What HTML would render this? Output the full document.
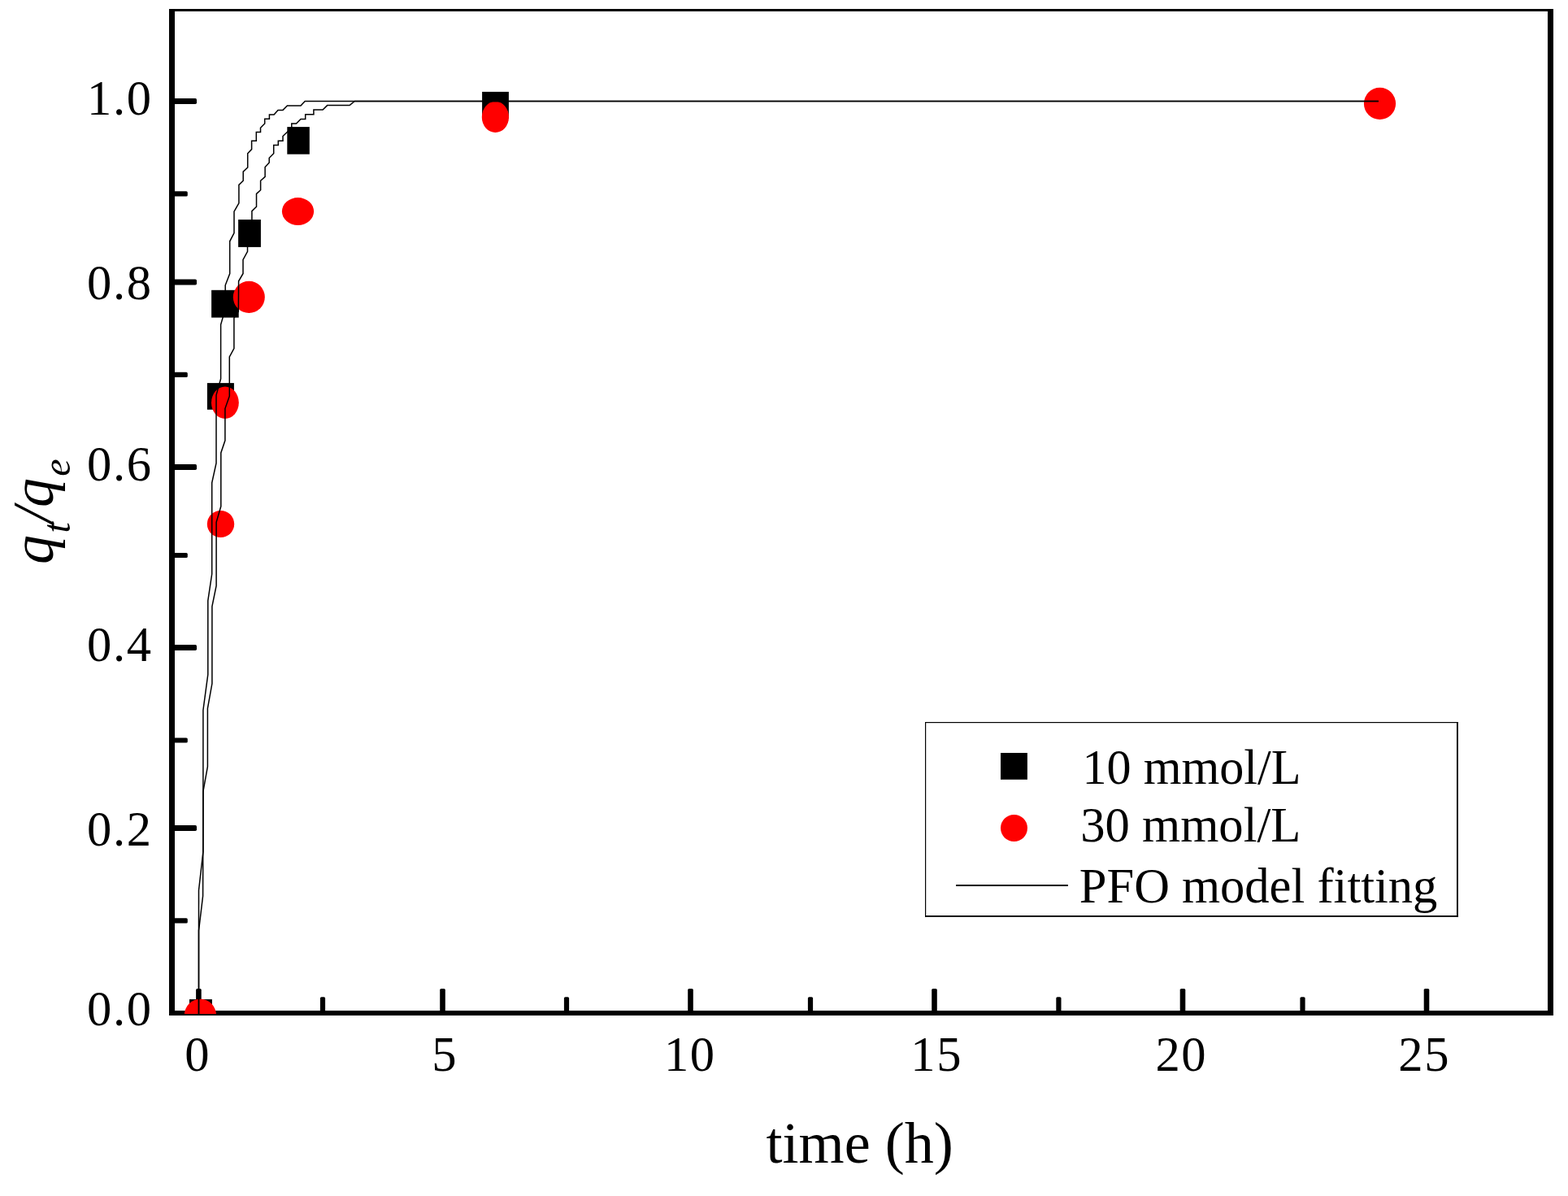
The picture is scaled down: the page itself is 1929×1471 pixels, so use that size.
<!DOCTYPE html>
<html><head><meta charset="utf-8"><title>q/q vs time</title>
<style>html,body{margin:0;padding:0;background:#fff;}svg{display:block;}text{font-family:'Liberation Serif', 'Times New Roman', Times, serif;fill:#000;}</style>
</head><body>
<svg width="1929" height="1471" viewBox="0 0 1929 1471">
<rect x="0" y="0" width="1929" height="1471" fill="#fff"/>
<defs><clipPath id="pc"><rect x="208" y="11" width="1703" height="1236"/></clipPath></defs>
<g fill="#000">
<rect x="208" y="11" width="7" height="1238"/>
<rect x="1904" y="11" width="7" height="1238"/>
<rect x="208" y="11" width="1703" height="3"/>
<rect x="208" y="1243" width="1703" height="6"/>
<rect x="241.1" y="1216" width="6.6" height="31" rx="1.6"/>
<rect x="541.2" y="1216" width="6.6" height="31" rx="1.6"/>
<rect x="846.2" y="1216" width="6.6" height="31" rx="1.6"/>
<rect x="1146.2" y="1216" width="6.6" height="31" rx="1.6"/>
<rect x="1451.7" y="1216" width="6.6" height="31" rx="1.6"/>
<rect x="1751.7" y="1216" width="6.6" height="31" rx="1.6"/>
<rect x="393.9" y="1226.2" width="6.2" height="20.8" rx="1.6"/>
<rect x="693.9" y="1226.2" width="6.2" height="20.8" rx="1.6"/>
<rect x="993.9" y="1226.2" width="6.2" height="20.8" rx="1.6"/>
<rect x="1299.3" y="1226.2" width="6.2" height="20.8" rx="1.6"/>
<rect x="1599.4" y="1226.2" width="6.2" height="20.8" rx="1.6"/>
<rect x="211" y="121.1" width="31" height="6.8" rx="1.6"/>
<rect x="211" y="343.6" width="31" height="6.8" rx="1.6"/>
<rect x="211" y="571.1" width="31" height="6.8" rx="1.6"/>
<rect x="211" y="793.1" width="31" height="6.8" rx="1.6"/>
<rect x="211" y="1015.1" width="31" height="6.8" rx="1.6"/>
<rect x="211" y="235.3" width="19.8" height="6.2" rx="1.6"/>
<rect x="211" y="457.8" width="19.8" height="6.2" rx="1.6"/>
<rect x="211" y="679.9" width="19.8" height="6.2" rx="1.6"/>
<rect x="211" y="907.4" width="19.8" height="6.2" rx="1.6"/>
<rect x="211" y="1129.3" width="19.8" height="6.2" rx="1.6"/>
</g>
<g clip-path="url(#pc)">
<rect x="233" y="1229.1" width="27.9" height="32.9" fill="#000"/>
<rect x="254.9" y="471.1" width="33" height="32.7" fill="#000"/>
<rect x="260.1" y="356.8" width="33.6" height="33.8" fill="#000"/>
<rect x="293.1" y="270.1" width="27.8" height="33.8" fill="#000"/>
<rect x="353.3" y="156.1" width="27.5" height="33.6" fill="#000"/>
<rect x="593.1" y="112.9" width="32.8" height="32.8" fill="#000"/>
<ellipse cx="246.4" cy="1248.4" rx="19.6" ry="19.6" fill="#f00"/>
<ellipse cx="271.5" cy="644.5" rx="16.7" ry="16.6" fill="#f00"/>
<ellipse cx="276.9" cy="495.3" rx="16.9" ry="19.7" fill="#f00"/>
<ellipse cx="306.3" cy="365.4" rx="19.5" ry="19.6" fill="#f00"/>
<ellipse cx="366.5" cy="260.1" rx="19.6" ry="17" fill="#f00"/>
<ellipse cx="609.4" cy="143.9" rx="16.6" ry="19.1" fill="#f00"/>
<ellipse cx="1697.5" cy="127.4" rx="19.6" ry="19.6" fill="#f00"/>
<polyline fill="none" stroke="#000" stroke-width="1.5" stroke-linejoin="miter" points="1695.9,124.4 375.2,124.5 370,130 353.4,130 348,135.4 342,135.4 337.1,141.1 331.4,141.1 331.4,146.3 325.7,146.3 325.7,152 320.5,157.2 320.5,162.4 315.3,162.4 315.3,173.2 309.6,173.2 309.6,183.6 304.7,188.7 304.7,206 299.2,211.1 299.2,222.3 293.9,227.4 293.9,249.9 288,260.1 288,286.6 282.7,296.8 282.7,336.5 277.2,350.8 277.2,380 271.6,399.4 271.6,466 266,486 266,569.6 260.7,593.9 260.7,706 255.8,738.8 255.8,829.6 249.9,873.5 249.9,1047.6 244.5,1095 244.5,1247"/>
<polyline fill="none" stroke="#000" stroke-width="1.5" stroke-linejoin="miter" points="1695.9,124.4 436.2,124.5 430.1,129.6 402.6,129.6 397.1,135.1 385.9,135.1 385.9,140.8 375.7,140.8 375.7,146.5 370,146.5 364.5,152 358.8,152 358.8,157.1 353.3,162.5 348,167.5 348,173.3 342.3,173.3 342.3,178.5 336.7,178.5 336.7,188.7 331.2,194.2 331.2,199.9 326.1,205.6 326.1,217.3 320.6,222.3 320.6,233.7 315.5,238.4 315.5,254.2 309.9,259.6 309.9,280 304.5,295 304.5,309.3 299,319.5 299,336.5 293.6,345.8 293.3,383 287.9,391 287.9,428.5 282.3,438.9 282.3,487.2 276.9,502.6 276.9,541.8 271.8,556.9 271.8,622.8 266.1,642.4 266.1,720.4 260.9,745.9 260.9,840.8 255.4,871.4 255.4,942.9 249.9,973.5 249.6,1102 244.5,1144.6 244.5,1247"/>
</g>
<g font-size="60.6" letter-spacing="1.6">
<text x="243.3" y="1316.6" text-anchor="middle">0</text>
<text x="547.2" y="1316.6" text-anchor="middle">5</text>
<text x="848.8" y="1316.6" text-anchor="middle">10</text>
<text x="1152.2" y="1316.6" text-anchor="middle">15</text>
<text x="1453.3" y="1316.6" text-anchor="middle">20</text>
<text x="1752.2" y="1316.6" text-anchor="middle">25</text>
<text x="187.6" y="140.9" text-anchor="end">1.0</text>
<text x="187.6" y="368.4" text-anchor="end">0.8</text>
<text x="187.6" y="590.5" text-anchor="end">0.6</text>
<text x="187.6" y="812.9" text-anchor="end">0.4</text>
<text x="187.6" y="1040" text-anchor="end">0.2</text>
<text x="187.6" y="1261.3" text-anchor="end">0.0</text>
</g>
<text x="942.5" y="1430.4" font-size="72" textLength="230.4" lengthAdjust="spacingAndGlyphs">time (h)</text>
<text transform="translate(64.6 693.9) rotate(-90)" font-size="72" font-style="italic"><tspan x="0" y="0">q</tspan><tspan x="38.4" y="21" font-size="48">t</tspan><tspan x="50.5" y="0">/</tspan><tspan x="70" y="0">q</tspan><tspan x="108.2" y="21" font-size="48">e</tspan></text>
<g fill="#000">
<rect x="1138" y="888" width="655.9" height="1.2"/>
<rect x="1138" y="888" width="1.2" height="239.8"/>
<rect x="1792" y="888" width="1.9" height="239.8"/>
<rect x="1138" y="1126" width="655.9" height="1.8"/>
</g>
<rect x="1231" y="926" width="32.9" height="32.8" fill="#000"/>
<circle cx="1247.5" cy="1018.5" r="16.45" fill="#f00"/>
<rect x="1176" y="1088" width="138" height="1.9" rx="0.6" fill="#000"/>
<g font-size="60.5">
<text x="1331.5" y="964.1" textLength="268.9" lengthAdjust="spacingAndGlyphs">10 mmol/L</text>
<text x="1329.2" y="1034.7" textLength="271.2" lengthAdjust="spacingAndGlyphs">30 mmol/L</text>
<text x="1327.8" y="1110.3" textLength="440.6" lengthAdjust="spacingAndGlyphs">PFO model fitting</text>
</g>
</svg>
</body></html>
